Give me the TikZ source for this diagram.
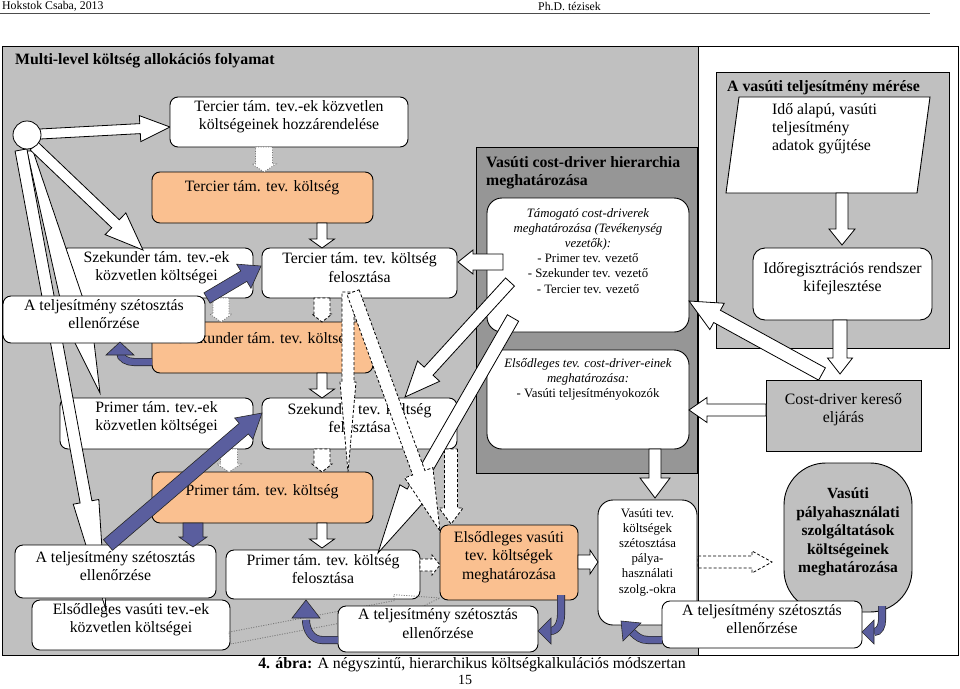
\documentclass[tikz,border=0pt]{standalone}
\usepackage{fontspec}
\setmainfont{Liberation Serif}
\usetikzlibrary{calc,fit}
\definecolor{bgg}{RGB}{192,192,192}
\definecolor{dkg}{RGB}{150,150,150}
\definecolor{org}{RGB}{250,192,144}
\definecolor{blu}{RGB}{90,94,158}
\newcommand\fs{\fontsize{15.8}{18.3}\selectfont}
\newcommand\smf{\fontsize{12.8}{15.2}\selectfont}
\newcommand\hdf{\fontsize{11.8}{14}\selectfont}
\newcommand\blockarrow[6][warr]{%
  \coordinate (bah) at ($(#3)!#6!(#2)$);
  \path[#1] ($(#2)!#4!90:(#3)$) -- ($(bah)!#4!90:(#3)$) -- ($(bah)!#5!90:(#3)$) -- (#3) -- ($(bah)!#5!-90:(#3)$) -- ($(bah)!#4!-90:(#3)$) -- ($(#2)!#4!-90:(#3)$) -- cycle;}
\newcommand\cblue[2]{\draw[bsh] #1; \draw[bin] #1; \path[barr] #2;}
\tikzset{
  box/.style={draw, line width=0.9pt, inner sep=0pt, align=center, font=\fs},
  wbox/.style={box, fill=white, rounded corners=8pt},
  obox/.style={box, fill=org, rounded corners=8pt},
  warr/.style={draw, fill=white, line width=0.8pt, line join=miter},
  darr/.style={warr, dash pattern=on 3pt off 2pt},
  tarr/.style={warr, draw=black!55, dash pattern=on 1pt off 1.5pt},
  barr/.style={draw=black!85, fill=blu, line width=0.6pt, line join=miter},
  bsh/.style={line width=8pt, draw=black!85},
  bin/.style={line width=6.6pt, draw=blu},
  txt/.style={inner sep=0pt, align=center, font=\fs},
  region/.style={draw, line width=1pt, inner sep=0pt},
}
\begin{document}
\begin{tikzpicture}[x=1pt,y=-1pt]
\useasboundingbox (0,0) rectangle (960,688);
\fill[white] (0,0) rectangle (960,688);
% header
\node[anchor=west, font=\hdf, inner sep=0] (hd1) at (2,6) {Hokstok Csaba, 2013};
\node[anchor=west, font=\hdf, inner sep=0] (hd2) at (538,6) {Ph.D. tézisek};
\draw[line width=0.8pt, black!70] (0,13) -- (930,13);
% regions
\node[region, fill=white, fit={(698,46)(958,655)}] (rreg) {};
\node[region, fill=bgg, fit={(2,46)(698,655)}] (lreg) {};
\node[region, fill=dkg, fit={(476,147)(697,473)}] (creg) {};
\node[region, fill=bgg, fit={(716,72)(949,348)}] (mreg) {};
\node[anchor=west, font=\fs\bfseries, inner sep=0] (t1) at (15,61) {Multi-level költség allokációs folyamat};
\node[anchor=west, font=\fs\bfseries, align=left, inner sep=0] (t2) at (486,172.5) {Vasúti cost-driver hierarchia\\meghatározása};
\node[anchor=west, font=\fs\bfseries, inner sep=0] (t3) at (727,88) {A vasúti teljesítmény mérése};
% boxes under long arrows
\node[wbox, fit={(60,398)(253,449)}] (pk) {Primer tám. tev.-ek\\közvetlen költségei};
\node[wbox, fit={(32,600)(230,650)}] (ek) {Elsődleges vasúti tev.-ek\\közvetlen költségei};
\node[wbox, fit={(60,248)(253,298)}] (sk) {Szekunder tám. tev.-ek\\közvetlen költségei};
% long arrows from start
\path[warr] (27,151) -- (33,151) -- (92,325) -- (100,393) -- (66,325) -- cycle;
\blockarrow{21,150}{106,610}{6pt}{13pt}{110pt}
\blockarrow{40,134}{170,127}{5pt}{13pt}{30pt}
\blockarrow{34,146}{143,250}{5.5pt}{15pt}{38pt}
\node[draw, fill=white, circle, minimum size=28pt, inner sep=0, line width=0.8pt] (st) at (27,135) {};
% main boxes
\node[wbox, fit={(170,97)(408,147)}] (tkh) {Tercier tám. tev.-ek közvetlen\\költségeinek hozzárendelése};
\node[obox, fit={(152,172)(373,223)}] (tk) {};
\node[txt] (tkt) at (262,188) {Tercier tám. tev. költség};
\node[wbox, fit={(262,248)(457,298)}] (tf) {Tercier tám. tev. költség\\felosztása};
\node[obox, fit={(152,322)(373,373)}] (so) {};
\node[txt] (sot) at (265,340) {Szekunder tám. tev. költség};
\node[wbox, fit={(3,296)(205,343)}] (te1) {A teljesítmény szétosztás\\ellenőrzése};
\node[wbox, fit={(262,398)(457,449)}] (sf) {Szekunder tev. költség\\felosztása};
\node[obox, fit={(152,472)(373,523)}] (po) {};
\node[txt] (pot) at (262,492) {Primer tám. tev. költség};
\node[wbox, fit={(15,545)(216,598)}] (te2) {A teljesítmény szétosztás\\ellenőrzése};
\node[wbox, fit={(226,550)(420,599)}] (pf) {Primer tám. tev. költség\\felosztása};
\blockarrow[tarr, fill=none]{230,638}{440,598}{6pt}{12pt}{45pt}
\node[wbox, fit={(338,606)(538,652)}] (te3) {A teljesítmény szétosztás\\ellenőrzése};
\node[obox, fit={(440,525)(578,600)}] (eo) {Elsődleges vasúti\\tev. költségek\\meghatározása};
\node[wbox, rounded corners=15pt, fit={(598,500)(697,625)}] (vt) {};
\node[txt, font=\smf, anchor=north] (vtt) at (647.5,508) {Vasúti tev.\\költségek\\szétosztása\\pálya-\\használati\\szolg.-okra};
\node[box, fill=bgg, rounded corners=42pt, fit={(784,463)(912,612)}, font=\fontsize{15.5}{18.5}\selectfont\bfseries] (ov) {Vasúti\\pályahasználati\\szolgáltatások\\költségeinek\\meghatározása};
\node[wbox, fit={(662,601)(862,648)}] (te4) {A teljesítmény szétosztás\\ellenőrzése};
% cost-driver boxes
\node[wbox, rounded corners=15pt, fit={(487,198)(689,332)}] (tm) {};
\node[txt, font=\smf, anchor=north] (tmt) at (588,208) {\textit{Támogató cost-driverek}\\\textit{meghatározása (Tevékenység}\\\textit{vezetők):}\\- Primer tev. vezető\\- Szekunder tev. vezető\\- Tercier tev. vezető};
\node[wbox, rounded corners=15pt, fit={(487,350)(689,449)}] (el) {};
\node[txt, font=\smf, anchor=north] (elt) at (588,358) {\textit{Elsődleges tev. cost-driver-einek}\\\textit{meghatározása:}\\- Vasúti teljesítményokozók};
% measurement
\draw[fill=white, line width=0.9pt] (739,97) -- (930,97) -- (917,193) -- (726,193) -- cycle;
\node[anchor=north west, align=left, inner sep=0, font=\fs] (pgt) at (772,103) {Idő alapú, vasúti\\teljesítmény\\adatok gyűjtése};
\node[wbox, rounded corners=12pt, fit={(753,248)(932,320)}] (ir) {Időregisztrációs rendszer\\kifejlesztése};
\node[box, fill=bgg, fit={(766,380)(921,451)}] (ck) {Cost-driver kereső\\eljárás};
% short arrows
\blockarrow{322,223}{322,248}{5pt}{12.5pt}{9pt}
\blockarrow{322,373}{322,398}{5pt}{12.5pt}{9pt}
\blockarrow{322,523}{322,548}{5pt}{12.5pt}{9pt}
\blockarrow[tarr]{264,147}{264,172}{8.5pt}{12pt}{8pt}
\blockarrow[tarr]{221,298}{221,322}{8pt}{11pt}{8pt}
\blockarrow[tarr]{229,449}{229,472}{8.5pt}{12pt}{8pt}
\blockarrow[darr]{322,298}{322,322}{8pt}{10pt}{8pt}
\blockarrow[darr]{322,449}{322,472}{8pt}{10pt}{8pt}
\blockarrow[darr]{451,449}{451,524}{6.5pt}{12pt}{16pt}
\blockarrow[darr]{420,565}{440,565}{6pt}{10pt}{8pt}
\blockarrow[darr, fill=none]{698,562}{772,562}{6pt}{11pt}{20pt}
\blockarrow{655,449}{655,498}{6pt}{15pt}{20pt}
\blockarrow{578,562}{598,562}{7pt}{12pt}{8pt}
\blockarrow{766,410}{689,410}{6pt}{12.5pt}{18pt}
\blockarrow{822,374}{689,301}{7pt}{15pt}{32pt}
\blockarrow{842,193}{842,245}{6pt}{13pt}{16pt}
\blockarrow{840,320}{840,374}{7pt}{12.5pt}{16pt}
% diagonal white arrows
\blockarrow{503,262}{458,262}{8pt}{12pt}{15pt}
\blockarrow{510,282}{405,397}{6pt}{15pt}{35pt}
\blockarrow{513,318}{378,553}{6.5pt}{15pt}{70pt}
% long dashed
\blockarrow[darr]{348,292}{348,472}{6pt}{8pt}{90pt}
\blockarrow[darr]{353,292}{440,531}{6.5pt}{15pt}{62pt}
% blue arrows
\blockarrow[barr]{207,298}{261,266}{6pt}{14pt}{20pt}
\blockarrow[barr]{108,545}{262,413}{7pt}{14pt}{24pt}
\blockarrow[barr]{193,523}{193,547}{10pt}{14pt}{10pt}
\cblue{(152,362) -- (134,362) to[out=180,in=-90] (120,352)}{(106,355) -- (120,342) -- (134,355) -- cycle}
\cblue{(561,595) -- (561,615) to[out=-90,in=0] (550,631)}{(551,618) -- (538,631) -- (551,644) -- cycle}
\cblue{(338,640) -- (322,640) to[out=180,in=-90] (306,620)}{(292,618) -- (306,600) -- (320,618) -- cycle}
\cblue{(662,640) -- (648,640) to[out=180,in=-45] (632,632)}{(641,623) -- (621,621) -- (623,641) -- cycle}
\cblue{(882,606) -- (882,620) to[out=-90,in=0] (874,632)}{(874,620) -- (862,632) -- (874,644) -- cycle}
% caption
\node[font=\fs, inner sep=0] (cap) at (472,665) {\textbf{4. ábra:} A négyszintű, hierarchikus költségkalkulációs módszertan};
\node[font=\fontsize{14}{16}\selectfont, inner sep=0] (pnum) at (465,680) {15};
\end{tikzpicture}
\end{document}
